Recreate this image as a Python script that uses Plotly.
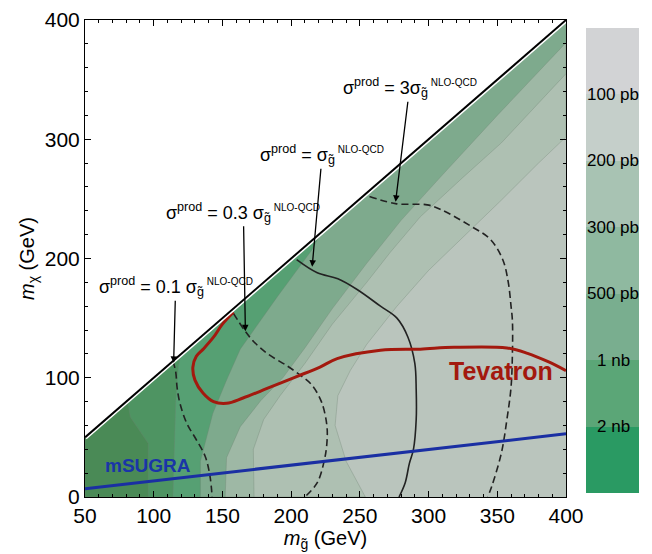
import plotly.graph_objects as go

# ---------------- data (GeV) ----------------
diag_m = [50, 400]

# band boundaries of sigma^prod (from x-axis foot upward)
L1_100pb_x = [254, 240, 232, 234, 243, 255, 277, 300, 331, 353, 380, 400]
L1_100pb_y = [0, 30, 60, 85, 106, 128, 160, 190, 224, 249, 280, 302]
L2_200pb_x = [173, 172.5, 180, 192, 210, 230, 255, 272, 294, 325, 353, 400]
L2_200pb_y = [0, 40, 65, 85, 112, 145, 180, 205, 235, 268, 297, 355]
L3_300pb_x = [152, 153, 163, 178, 194, 210, 230, 255, 280, 310, 350, 400]
L3_300pb_y = [0, 33, 59, 81, 100, 125, 158, 196, 232, 270, 320, 381]
L4_500pb_x = [134, 134, 143, 153, 163, 190, 215, 222]
L4_500pb_y = [0, 30, 70, 98, 124, 168, 207, 222]
L5_1nb_x = [114, 115, 116, 118, 120]
L5_1nb_y = [0, 40, 80, 110, 120]
L6_2nb_x = [96, 96, 90, 83, 81]
L6_2nb_y = [0, 45, 55, 67, 81]

band_labels = ["100 pb", "200 pb", "300 pb", "500 pb", "1 nb", "2 nb"]

# ratio contours sigma^prod / sigma_gluino^NLO-QCD
r01_x = [114, 116, 117, 119, 124, 131, 137.5, 141, 142.5]
r01_y = [114, 105, 92, 79, 62, 48, 34, 17, 0]
r03_x = [158, 166, 173, 183, 197, 208, 215, 222, 226, 226, 224, 219, 210]
r03_y = [154, 140, 130, 120, 110, 101, 94, 80, 60, 45, 30, 12, 0]
r1_x = [204, 219, 234, 248, 265, 277, 285, 290, 291, 291, 289, 286, 283, 278.5]
r1_y = [199, 188, 183, 174, 160, 150, 134, 112, 90, 65, 40, 28, 12, 0]
r3_x = [257, 276, 299, 309, 331, 345, 354, 358, 360, 361, 361, 360, 357, 353, 346, 343]
r3_y = [252, 246, 245, 241, 227, 216, 199, 180, 160, 148, 120, 92, 65, 37, 9, 0]

tev_x = [158, 150, 143.5, 136, 131, 128.5, 130, 136, 143.5, 153, 165, 182.5, 204, 221,
         233.5, 265, 294, 318.5, 357, 372, 387, 400]
tev_y = [155, 145, 134, 124, 118, 109, 98, 87, 80, 78.6, 83, 91, 101, 109,
         116, 123, 124, 125.5, 125, 120.5, 113.5, 106]

msugra_x = [50, 400]
msugra_y = [7, 53]

# ---------------- styling ----------------
fill_cols = ["#bac5bd", "#aec0b2", "#9eb8a5", "#7eaa8d", "#56a073", "#4e9462", "#4a8a56"]
bar_cols = ["#d2d3d5", "#c5cfca", "#a8c3b3", "#8fb9a0", "#79ae8f", "#5ba677", "#2a9a63"]
FONT = "Liberation Sans"

fig = go.Figure()

fig.add_trace(go.Scatter(x=[diag_m[0], diag_m[1], diag_m[1], diag_m[0]],
                         y=[0, 0, diag_m[1], diag_m[0]],
                         fill="toself", fillcolor=fill_cols[0], mode="lines",
                         line=dict(width=0), hoverinfo="skip", showlegend=False))

bounds = [(L1_100pb_x, L1_100pb_y), (L2_200pb_x, L2_200pb_y), (L3_300pb_x, L3_300pb_y),
          (L4_500pb_x, L4_500pb_y), (L5_1nb_x, L5_1nb_y), (L6_2nb_x, L6_2nb_y)]
for k, (bx, by) in enumerate(bounds):
    px = [diag_m[0]] + list(bx)
    py = [0] + list(by)
    if bx[-1] >= diag_m[1]:
        px.append(diag_m[1]); py.append(diag_m[1])
    px += [diag_m[0], diag_m[0]]
    py += [diag_m[0], 0]
    fig.add_trace(go.Scatter(x=px, y=py, fill="toself", fillcolor=fill_cols[k + 1],
                             mode="lines", line=dict(width=0.6, color="rgba(110,130,115,0.55)"),
                             hoverinfo="skip", showlegend=False))

# colorbar via dummy trace
n = len(bar_cols)
cs = []
for i, c in enumerate(reversed(bar_cols)):
    cs.append([i / n, c]); cs.append([(i + 1) / n, c])
PL, PR, PT, PB = 85, 566, 20, 497
bar_top, bar_bot = 28, 493
fig.add_trace(go.Scatter(x=[None], y=[None], mode="markers", showlegend=False,
                         marker=dict(color=[0], cmin=0, cmax=n, colorscale=cs, showscale=True,
                                     colorbar=dict(x=(586 - PL) / (PR - PL), xanchor="left", xpad=0, ypad=0,
                                                   thickness=53, thicknessmode="pixels",
                                                   len=(bar_bot - bar_top) / (PB - PT),
                                                   lenmode="fraction",
                                                   y=(PB - (bar_top + bar_bot) / 2) / (PB - PT),
                                                   yanchor="middle", outlinewidth=0,
                                                   showticklabels=False, ticks=""))))

dash_style = dict(color="#222", width=1.6, dash="7px,4px")
for xs, ys, st in [(r01_x, r01_y, dash_style), (r03_x, r03_y, dash_style),
                   (r1_x, r1_y, dict(color="#222", width=1.6)), (r3_x, r3_y, dash_style)]:
    fig.add_trace(go.Scatter(x=xs, y=ys, mode="lines", line=st, hoverinfo="skip",
                             showlegend=False, line_shape="spline"))

fig.add_trace(go.Scatter(x=tev_x, y=tev_y, mode="lines", line=dict(color="#a3190e", width=3),
                         line_shape="spline", hoverinfo="skip", showlegend=False))
fig.add_trace(go.Scatter(x=msugra_x, y=msugra_y, mode="lines", line=dict(color="#1a2fa3", width=3),
                         hoverinfo="skip", showlegend=False))

fig.add_trace(go.Scatter(x=diag_m, y=diag_m, mode="lines", line=dict(color="white", width=5),
                         hoverinfo="skip", showlegend=False))
fig.add_trace(go.Scatter(x=diag_m, y=diag_m, mode="lines", line=dict(color="black", width=2),
                         hoverinfo="skip", showlegend=False))

ann = []
SUP = "<span style='font-size:10px'> NLO-QCD</span>"
labels = [("σ<sup>prod</sup> = 0.1 σ<sub>g̃</sub><sup>" + SUP + "</sup>", 114.5, 112.5, 2, -76),
          ("σ<sup>prod</sup> = 0.3 σ<sub>g̃</sub><sup>" + SUP + "</sup>", 166.7, 139, -2, -119),
          ("σ<sup>prod</sup> = σ<sub>g̃</sub><sup>" + SUP + "</sup>", 215.3, 193.1, 10, -112),
          ("σ<sup>prod</sup> = 3σ<sub>g̃</sub><sup>" + SUP + "</sup>", 276, 247.6, 14, -114)]
for t, x, y, ax, ay in labels:
    ann.append(dict(text=t, x=x, y=y, ax=ax, ay=ay, xref="x", yref="y", showarrow=True,
                    arrowhead=2, arrowsize=1, arrowwidth=1.3, arrowcolor="black", standoff=0,
                    font=dict(family=FONT, size=18, color="black")))

ann.append(dict(text="<b>Tevatron</b>", x=353, y=106, xref="x", yref="y", showarrow=False,
                font=dict(family=FONT, size=25, color="#a3190e")))
ann.append(dict(text="<b>mSUGRA</b>", x=96, y=26, xref="x", yref="y", showarrow=False,
                font=dict(family=FONT, size=19, color="#1a35a8")))

for k, lab in enumerate(band_labels):
    ypx = bar_top + (k + 1) * (bar_bot - bar_top) / n
    ann.append(dict(text=lab, x=(613 - PL) / (PR - PL), y=(PB - ypx) / (PB - PT),
                    xref="paper", yref="paper", showarrow=False, xanchor="center", yanchor="middle",
                    font=dict(family=FONT, size=17, color="black")))

axis_common = dict(showgrid=False, zeroline=False, showline=True, linecolor="black", linewidth=1,
                   mirror="allticks", ticks="inside", ticklen=6, tickcolor="black", automargin=False,
                   tickfont=dict(family=FONT, size=21, color="black"))
fig.update_layout(
    width=652, height=554,
    margin=dict(l=PL, r=652 - PR, t=PT, b=554 - PB, autoexpand=False),
    paper_bgcolor="white", plot_bgcolor="white",
    annotations=ann,
    xaxis=dict(range=[50, 400], tick0=50, dtick=50,
               minor=dict(dtick=10, ticklen=3, ticks="inside", tickcolor="black"),
               title=dict(text="<i>m</i><sub>g̃</sub> (GeV)", standoff=2,
                          font=dict(family=FONT, size=20, color="black")),
               **axis_common),
    yaxis=dict(range=[0, 400], tick0=0, dtick=100,
               minor=dict(dtick=20, ticklen=3, ticks="inside", tickcolor="black"),
               title=dict(text="<i>m</i><sub>χ</sub> (GeV)", standoff=4,
                          font=dict(family=FONT, size=20, color="black")),
               **axis_common),
)

fig.write_html("out.html", config={"displayModeBar": False},
               post_script="document.body.style.margin='0px';")
